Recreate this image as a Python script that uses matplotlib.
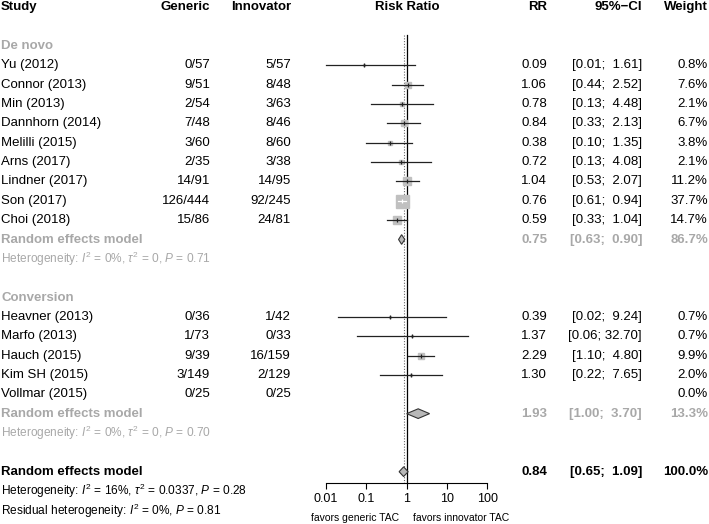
import numpy as np
import matplotlib
matplotlib.use("Agg")
import matplotlib.pyplot as plt

plt.rcParams['font.family'] = ['Liberation Sans', 'DejaVu Sans']
plt.rcParams['mathtext.fontset'] = 'custom'
plt.rcParams['mathtext.rm'] = 'Liberation Sans'
plt.rcParams['mathtext.it'] = 'Liberation Sans:italic'
plt.rcParams['mathtext.bf'] = 'Liberation Sans:bold'

# ---- data ----
dn_study = ["Yu (2012)", "Connor (2013)", "Min (2013)", "Dannhorn (2014)", "Melilli (2015)",
            "Arns (2017)", "Lindner (2017)", "Son (2017)", "Choi (2018)"]
dn_ev_gen = [0, 9, 2, 7, 3, 2, 14, 126, 15]
dn_n_gen = [57, 51, 54, 48, 60, 35, 91, 444, 86]
dn_ev_inn = [5, 8, 3, 8, 8, 3, 14, 92, 24]
dn_n_inn = [57, 48, 63, 46, 60, 38, 95, 245, 81]
dn_rr = [0.09, 1.06, 0.78, 0.84, 0.38, 0.72, 1.04, 0.76, 0.59]
dn_lo = [0.01, 0.44, 0.13, 0.33, 0.10, 0.13, 0.53, 0.61, 0.33]
dn_hi = [1.61, 2.52, 4.48, 2.13, 1.35, 4.08, 2.07, 0.94, 1.04]
dn_w = [0.8, 7.6, 2.1, 6.7, 3.8, 2.1, 11.2, 37.7, 14.7]

cv_study = ["Heavner (2013)", "Marfo (2013)", "Hauch (2015)", "Kim SH (2015)", "Vollmar (2015)"]
cv_ev_gen = [0, 1, 9, 3, 0]
cv_n_gen = [36, 73, 39, 149, 25]
cv_ev_inn = [1, 0, 16, 2, 0]
cv_n_inn = [42, 33, 159, 129, 25]
cv_rr = [0.39, 1.37, 2.29, 1.30, None]
cv_lo = [0.02, 0.06, 1.10, 0.22, None]
cv_hi = [9.24, 32.70, 4.80, 7.65, None]
cv_w = [0.7, 0.7, 9.9, 2.0, 0.0]

# random effects: rr, lo, hi, weight
dn_re = (0.75, 0.63, 0.90, 86.7)
cv_re = (1.93, 1.00, 3.70, 13.3)
all_re = (0.84, 0.65, 1.09, 100.0)

dn_het = r"Heterogeneity: $\mathit{I}^2$ = 0%, $\tau^2$ = 0, $\mathit{P}$ = 0.71"
cv_het = r"Heterogeneity: $\mathit{I}^2$ = 0%, $\tau^2$ = 0, $\mathit{P}$ = 0.70"
all_het = r"Heterogeneity: $\mathit{I}^2$ = 16%, $\tau^2$ = 0.0337, $\mathit{P}$ = 0.28"
resid_het = r"Residual heterogeneity: $\mathit{I}^2$ = 0%, $\mathit{P}$ = 0.81"

ticks = [0.01, 0.1, 1, 10, 100]
tick_labels = ["0.01", "0.1", "1", "10", "100"]

GREY = "#a8a8a8"
SQ = "#c0c0c0"
FS = 9.5
FS_HET = 8.6

# ---- layout (pixel based, rows ~19.35 px apart) ----
W, H = 709, 524
y0, dy = 46, 19.35
ytop = -y0 / dy
ybot = (H - y0) / dy

fig = plt.figure(figsize=(W / 100, H / 100), dpi=100)
ax = fig.add_axes([0, 0, 1, 1])
ax.set_xlim(0, W)
ax.set_ylim(ybot, ytop)
ax.axis('off')

xl, xr = 326, 487.3
fx = fig.add_axes([xl / W, 0, (xr - xl) / W, 1])
fx.set_xscale('log')
fx.set_xlim(0.01, 100)
fx.set_ylim(ybot, ytop)
fx.patch.set_visible(False)
for s in ['top', 'left', 'right']:
    fx.spines[s].set_visible(False)
axis_row = (483 - y0) / dy
fx.spines['bottom'].set_position(('data', axis_row))
fx.spines['bottom'].set_linewidth(0.8)
fx.set_yticks([])
fx.set_xticks(ticks)
fx.set_xticklabels(tick_labels, fontsize=9)
fx.minorticks_off()
fx.tick_params(axis='x', direction='out', length=4.5, width=0.8, pad=3)

X_STUDY, X_GEN, X_INN, X_RR, X_CI, X_W = 1, 210, 291, 547, 642, 708


def row_text(y, name, eg, ng, ei, ni, rr, lo, hi, w, color='black', weight='normal'):
    ax.text(X_STUDY, y, name, ha='left', va='center', fontsize=FS, color=color, fontweight=weight)
    if eg is not None:
        ax.text(X_GEN, y, f"{eg}/{ng}", ha='right', va='center', fontsize=FS, color=color)
        ax.text(X_INN, y, f"{ei}/{ni}", ha='right', va='center', fontsize=FS, color=color)
    if rr is not None:
        ax.text(X_RR, y, f"{rr:.2f}", ha='right', va='center', fontsize=FS, color=color, fontweight=weight)
        ax.text(X_CI, y, f"[{lo:.2f}; {hi:5.2f}]", ha='right', va='center', fontsize=FS,
                color=color, fontweight=weight)
    ax.text(X_W, y, f"{w:.1f}%", ha='right', va='center', fontsize=FS, color=color, fontweight=weight)


def px_per_decade():
    return (xr - xl) / 4


def draw_study(y, rr, lo, hi, w):
    if rr is None:
        return
    side = 13 * np.sqrt(w / 37.7)
    span = (np.log10(hi) - np.log10(lo)) * px_per_decade()
    inside = span < side
    fx.plot([rr], [y], marker='s', ms=side * 0.72, color=SQ, mec=SQ, ls='none', zorder=2)
    lc = 'white' if inside else '#222222'
    fx.plot([lo, hi], [y, y], color=lc, lw=0.9, zorder=3, clip_on=False)
    fx.plot([rr], [y], marker='|', ms=3.5, mew=0.9, color=lc, ls='none', zorder=4)


def draw_diamond(y, est, lo, hi, h=0.25):
    fx.fill([lo, est, hi, est], [y, y - h, y, y + h], facecolor='#b8b8b8', edgecolor='#333333',
            lw=0.8, zorder=3)


# headers
hy = -2
ax.text(X_STUDY, hy, "Study", ha='left', va='center', fontsize=FS, fontweight='bold')
ax.text(X_GEN, hy, "Generic", ha='right', va='center', fontsize=FS, fontweight='bold')
ax.text(X_INN, hy, "Innovator", ha='right', va='center', fontsize=FS, fontweight='bold')
ax.text(407, hy, "Risk Ratio", ha='center', va='center', fontsize=FS, fontweight='bold')
ax.text(X_RR, hy, "RR", ha='right', va='center', fontsize=FS, fontweight='bold')
ax.text(X_CI, hy, "95%\u2212CI", ha='right', va='center', fontsize=FS, fontweight='bold')
ax.text(X_W, hy, "Weight", ha='right', va='center', fontsize=FS, fontweight='bold')

# De novo subgroup
ax.text(X_STUDY, 0, "De novo", ha='left', va='center', fontsize=FS, fontweight='bold', color=GREY)
for i in range(len(dn_study)):
    y = 1 + i
    row_text(y, dn_study[i], dn_ev_gen[i], dn_n_gen[i], dn_ev_inn[i], dn_n_inn[i],
             dn_rr[i], dn_lo[i], dn_hi[i], dn_w[i])
    draw_study(y, dn_rr[i], dn_lo[i], dn_hi[i], dn_w[i])
y = 1 + len(dn_study)
row_text(y, "Random effects model", None, None, None, None, *dn_re, color=GREY, weight='bold')
draw_diamond(y, dn_re[0], dn_re[1], dn_re[2])
ax.text(X_STUDY, y + 1, dn_het, ha='left', va='center', fontsize=FS_HET, color=GREY)

# Conversion subgroup
ys = y + 3
ax.text(X_STUDY, ys, "Conversion", ha='left', va='center', fontsize=FS, fontweight='bold', color=GREY)
for i in range(len(cv_study)):
    y = ys + 1 + i
    row_text(y, cv_study[i], cv_ev_gen[i], cv_n_gen[i], cv_ev_inn[i], cv_n_inn[i],
             cv_rr[i], cv_lo[i], cv_hi[i], cv_w[i])
    draw_study(y, cv_rr[i], cv_lo[i], cv_hi[i], cv_w[i])
y = ys + 1 + len(cv_study)
row_text(y, "Random effects model", None, None, None, None, *cv_re, color=GREY, weight='bold')
draw_diamond(y, cv_re[0], cv_re[1], cv_re[2])
ax.text(X_STUDY, y + 1, cv_het, ha='left', va='center', fontsize=FS_HET, color=GREY)

# overall
y = y + 3
row_text(y, "Random effects model", None, None, None, None, *all_re, weight='bold')
draw_diamond(y, all_re[0], all_re[1], all_re[2])
ax.text(X_STUDY, y + 1, all_het, ha='left', va='center', fontsize=FS_HET)
ax.text(X_STUDY, y + 2, resid_het, ha='left', va='center', fontsize=FS_HET)

# reference lines
vtop = (35 - y0) / dy
fx.plot([1, 1], [vtop, axis_row], color='black', lw=0.9, zorder=1)
fx.plot([all_re[0]] * 2, [vtop, axis_row], color='#666666', lw=0.8, ls=(0, (1, 1.5)), zorder=1)

# favors labels
fy = (518 - y0) / dy
ax.text(399, fy, "favors generic TAC", ha='right', va='center', fontsize=7.5)
ax.text(413, fy, "favors innovator TAC", ha='left', va='center', fontsize=7.5)

fig.savefig("out.png", dpi=100)
